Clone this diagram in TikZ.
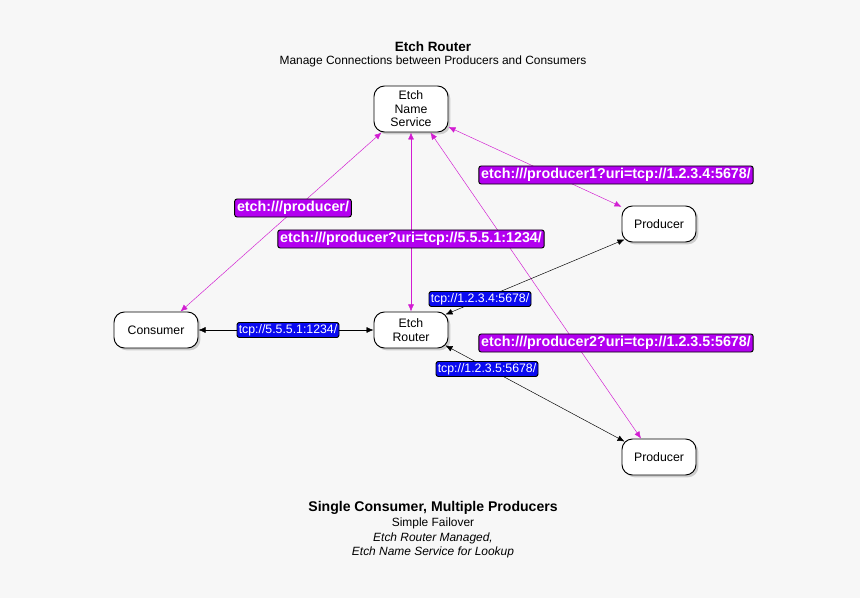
\documentclass[tikz,border=0pt]{standalone}
\usepackage{fontspec}
\setmainfont{Liberation Sans}
\usetikzlibrary{arrows.meta,shadows}
\definecolor{bgcol}{HTML}{F7F7F7}
\definecolor{lookup}{HTML}{D21DD2}
\definecolor{urlfill}{HTML}{B300F0}
\definecolor{tcpfill}{HTML}{0A0AF0}
\begin{document}
\begin{tikzpicture}[x=0.03cm,y=-0.03cm,>={Latex[length=6pt,width=5pt]},
    box/.style={draw,thick,fill=white,rounded corners=9pt,minimum height=1.08cm,
      minimum width=2.22cm,align=center,font=\fontsize{10.5}{11.5}\selectfont,
      drop shadow={shadow xshift=2pt,shadow yshift=-2pt,opacity=0.35}},
    url/.style={draw=black,thick,fill=urlfill,text=white,rounded corners=2pt,
      inner sep=2pt,font=\bfseries\fontsize{12.2}{13}\selectfont},
    tcp/.style={draw=black,thick,fill=tcpfill,text=white,rounded corners=2pt,
      inner sep=1.5pt,font=\fontsize{10.5}{12}\selectfont},
    look/.style={<->,draw=lookup,thin},
    conn/.style={<->,draw=black,thin}]
    \fill[bgcol] (0,0) rectangle (860,598);
    % titles
    \node[font=\bfseries\fontsize{11.5}{13}\selectfont] (top) at (433,47) {Etch Router};
    \node[font=\fontsize{10.2}{12}\selectfont] (topsub) at (433,61) {Manage Connections between Producers and Consumers};
    \node[font=\bfseries\fontsize{12}{13}\selectfont] (bot) at (433,508) {Single Consumer, Multiple Producers};
    \node[align=center,font=\fontsize{10.2}{12.4}\selectfont,anchor=north] (botsub) at (433,514)
      {Simple Failover\\ \itshape Etch Router Managed,\\ \itshape Etch Name Service for Lookup};
    % nodes
    \node[box,minimum height=1.38cm] (ns) at (411,109) {Etch\\Name\\Service};
    \node[box,minimum width=2.52cm] (cons) at (156,330) {Consumer};
    \node[box] (router) at (411,330) {Etch\\Router};
    \node[box] (prod1) at (659,224) {Producer};
    \node[box] (prod2) at (659,457) {Producer};
    % lookups
    \path (cons.north east) ++(-18,0) coordinate (c1) (ns.south west) ++(8,0) coordinate (n1);
    \draw[look] (c1) -- (n1);
    \draw[look] (ns) -- (router);
    \path (ns.east) ++(0,18) coordinate (n2);
    \draw[look] (n2) -- (prod1);
    \path (ns.south east) ++(-18,0) coordinate (n3) (prod2.north) ++(-18,0) coordinate (p2);
    \draw[look] (n3) -- (p2);
    % connections
    \draw[conn] (cons) -- (router);
    \path (router.north east) ++(-3,3) coordinate (r1) (prod1.south west) ++(3,-3) coordinate (q1);
    \draw[conn] (r1) -- (q1);
    \path (router.south east) ++(-3,-3) coordinate (r2) (prod2.north west) ++(3,3) coordinate (q2);
    \draw[conn] (r2) -- (q2);
    % labels
    \node[url] (lproducer) at (293,208) {etch:///producer/};
    \node[url] (lrouter) at (411,239) {etch:///producer?uri=tcp://5.5.5.1:1234/};
    \node[url] (lprod1) at (616,175) {etch:///producer1?uri=tcp://1.2.3.4:5678/};
    \node[url] (lprod2) at (616,343) {etch:///producer2?uri=tcp://1.2.3.5:5678/};
    \node[tcp] (tcons) at (288,330) {tcp://5.5.5.1:1234/};
    \node[tcp] (tprod1) at (480,299) {tcp://1.2.3.4:5678/};
    \node[tcp] (tprod2) at (487,369) {tcp://1.2.3.5:5678/};
\end{tikzpicture}
\end{document}
